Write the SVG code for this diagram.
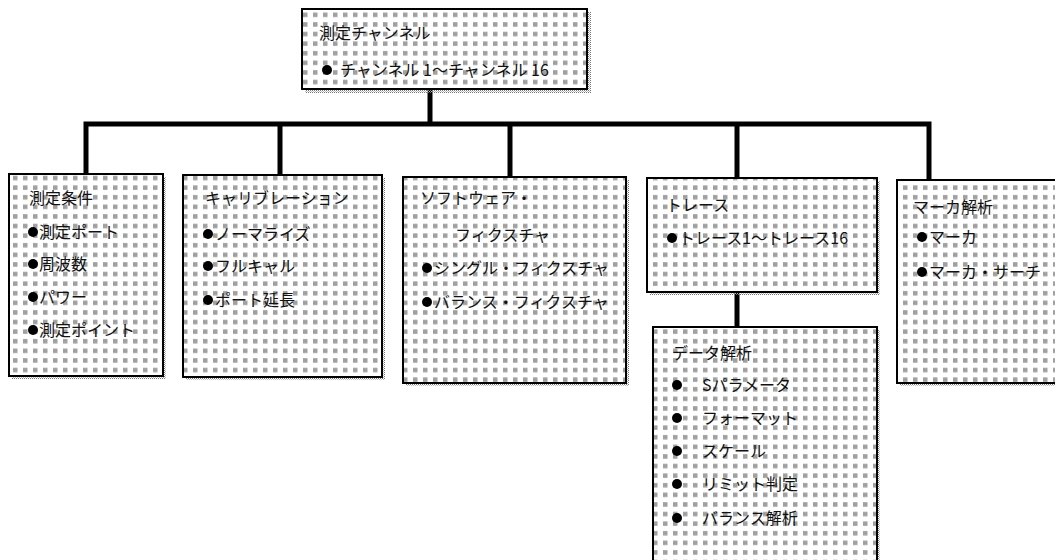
<svg xmlns="http://www.w3.org/2000/svg" width="1055" height="560" viewBox="0 0 1055 560">
<defs>
<pattern id="dots" x="0" y="0" width="10" height="9.6" patternUnits="userSpaceOnUse">
<rect x="3" y="3" width="4.5" height="4.5" fill="#a0a0a0"/>
</pattern>
<pattern id="shade" x="0" y="0" width="2" height="2" patternUnits="userSpaceOnUse">
<rect width="1" height="1" fill="#777"/>
<rect x="1" y="1" width="1" height="1" fill="#bbb"/>
</pattern>
<style>
.box{fill:#fff;stroke:#000;stroke-width:2}
.pat{fill:url(#dots)}
.sh{fill:url(#shade)}
.conn{stroke:#000;stroke-width:5;fill:none;stroke-linecap:square}
text{font-family:"Noto Sans CJK JP","Noto Sans",sans-serif;font-size:16px;fill:#111}
.b{fill:#000}
</style>
</defs>
<g id="connectors">
<path class="conn" d="M430 91 V124 M86 124 H929 M86 124 V173 M280 124 V174 M510 124 V176 M737 124 V177 M929 124 V179 M737 293 V326"/>
</g>
<g id="n-top">
<rect class="sh" x="305" y="12" width="286" height="81"/>
<rect class="box" x="302" y="9" width="285" height="80"/>
<rect class="pat" x="303" y="10" width="283" height="78"/>
<text x="319" y="39">測定チャンネル</text>
<circle class="b" cx="327" cy="70" r="5"/>
<text x="340" y="76">チャンネル 1～チャンネル 16</text>
</g>
<g id="n-cond">
<rect class="sh" x="12" y="177" width="154" height="202"/>
<rect class="box" x="9" y="174" width="154" height="202"/>
<rect class="pat" x="10" y="175" width="152" height="200"/>
<text x="29" y="204">測定条件</text>
<circle class="b" cx="33" cy="232" r="5"/><text x="39" y="238">測定ポート</text>
<circle class="b" cx="33" cy="264" r="5"/><text x="39" y="270">周波数</text>
<circle class="b" cx="33" cy="297" r="5"/><text x="39" y="303">パワー</text>
<circle class="b" cx="33" cy="330" r="5"/><text x="39" y="336">測定ポイント</text>
</g>
<g id="n-cal">
<rect class="sh" x="186" y="178" width="199" height="202"/>
<rect class="box" x="183" y="175" width="199" height="202"/>
<rect class="pat" x="184" y="176" width="197" height="200"/>
<text x="205" y="204">キャリブレーション</text>
<circle class="b" cx="208" cy="234" r="5"/><text x="215" y="240">ノーマライズ</text>
<circle class="b" cx="208" cy="266" r="5"/><text x="215" y="272">フルキャル</text>
<circle class="b" cx="208" cy="300" r="5"/><text x="215" y="306">ポート延長</text>
</g>
<g id="n-fix">
<rect class="sh" x="406" y="180" width="223" height="206"/>
<rect class="box" x="403" y="177" width="223" height="206"/>
<rect class="pat" x="404" y="178" width="221" height="204"/>
<text x="420" y="204">ソフトウェア・</text>
<text x="455" y="241">フィクスチャ</text>
<circle class="b" cx="427" cy="268" r="5"/><text x="434" y="274">シングル・フィクスチャ</text>
<circle class="b" cx="427" cy="302" r="5"/><text x="434" y="308">バランス・フィクスチャ</text>
</g>
<g id="n-trace">
<rect class="sh" x="650" y="181" width="230" height="114"/>
<rect class="box" x="647" y="178" width="230" height="114"/>
<rect class="pat" x="648" y="179" width="228" height="112"/>
<text x="666" y="211">トレース</text>
<circle class="b" cx="672" cy="238" r="5"/><text x="679" y="244">トレース1～トレース16</text>
</g>
<g id="n-marker">
<rect class="sh" x="900" y="183" width="170" height="203"/>
<rect class="box" x="897" y="180" width="170" height="203"/>
<rect class="pat" x="898" y="181" width="168" height="201"/>
<text x="913" y="213">マーカ解析</text>
<circle class="b" cx="922" cy="237" r="5"/><text x="929" y="243">マーカ</text>
<circle class="b" cx="922" cy="272" r="5"/><text x="929" y="278">マーカ・サーチ</text>
</g>
<g id="n-data">
<rect class="sh" x="656" y="330" width="224" height="240"/>
<rect class="box" x="653" y="327" width="224" height="240"/>
<rect class="pat" x="654" y="328" width="222" height="238"/>
<text x="672" y="359">データ解析</text>
<circle class="b" cx="677" cy="385" r="5"/><text x="702" y="391">Sパラメータ</text>
<circle class="b" cx="677" cy="418" r="5"/><text x="702" y="424">フォーマット</text>
<circle class="b" cx="677" cy="451" r="5"/><text x="702" y="457">スケール</text>
<circle class="b" cx="677" cy="484" r="5"/><text x="702" y="490">リミット判定</text>
<circle class="b" cx="677" cy="518" r="5"/><text x="702" y="524">バランス解析</text>
</g>
</svg>
